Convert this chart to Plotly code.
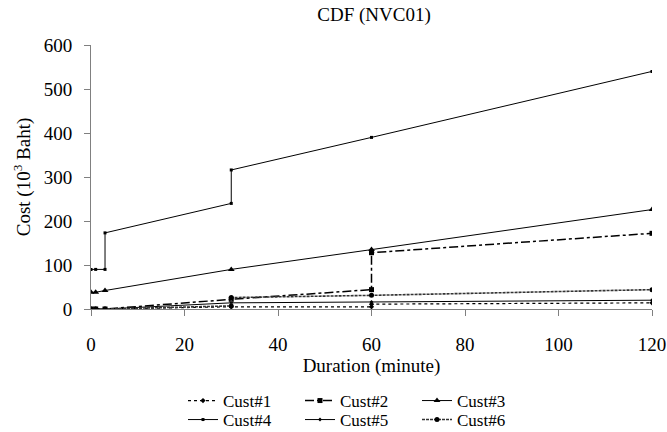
import plotly.graph_objects as go

title = "CDF (NVC01)"
x_title = "Duration (minute)"
y_title = "Cost (10<sup>3</sup> Baht)"

names = ["Cust#1", "Cust#2", "Cust#3", "Cust#4", "Cust#5", "Cust#6"]

c1_x = [0, 1, 3, 30, 60, 60, 120]
c1_y = [0, 0, 0, 5, 5, 11, 14]
c2_x = [0, 1, 3, 30, 60, 60, 120]
c2_y = [0, 0, 0, 22, 44, 128, 172]
c3_x = [0, 1, 3, 30, 60, 120]
c3_y = [38, 38, 42, 90, 135, 226]
c4_x = [0, 1, 3, 3, 30, 30, 60, 120]
c4_y = [90, 90, 90, 173, 240, 316, 390, 540]
c5_x = [0, 1, 3, 30, 60, 120]
c5_y = [0, 0, 0, 14, 16, 20]
c6_x = [0, 1, 3, 30, 30, 60, 120]
c6_y = [0, 0, 0, 7, 26, 31, 44]

FONT = "Liberation Serif"
FS = 19

styles = [
    dict(dash="dot", width=1.2, color="black", symbol="diamond", size=4),
    dict(dash="dashdot", width=1.5, color="black", symbol="square", size=5),
    dict(dash="solid", width=1, color="black", symbol="triangle-up", size=6),
    dict(dash="solid", width=1, color="black", symbol="square", size=3),
    dict(dash="solid", width=1, color="black", symbol="diamond", size=3),
    dict(dash="3px,1px", width=1.6, color="#333333", symbol="circle", size=5),
]
data = [(c1_x, c1_y), (c2_x, c2_y), (c3_x, c3_y), (c4_x, c4_y), (c5_x, c5_y), (c6_x, c6_y)]

fig = go.Figure()
for i, ((xs, ys), st, nm) in enumerate(zip(data, styles, names)):
    fig.add_trace(go.Scatter(
        x=xs, y=ys, name=nm, mode="lines+markers",
        line=dict(color=st["color"], width=st["width"], dash=st["dash"]),
        marker=dict(symbol=st["symbol"], size=st["size"], color="black"),
        legend="legend" if i < 3 else "legend2",
    ))

axis_common = dict(
    showgrid=False, zeroline=False, showline=True, linecolor="#808080", linewidth=1,
    ticks="outside", ticklen=6, tickcolor="#808080",
    tickfont=dict(family=FONT, size=FS, color="black"),
)

leg_common = dict(
    orientation="h", xanchor="left", yanchor="middle",
    entrywidth=72, font=dict(family=FONT, size=17, color="black"),
    bgcolor="rgba(0,0,0,0)", itemwidth=30,
)

fig.update_layout(
    width=667, height=432,
    margin=dict(l=91, r=15, t=45, b=123, autoexpand=False),
    paper_bgcolor="white", plot_bgcolor="white",
    title=dict(text=title, x=374 / 667, xanchor="center", y=1 - 14 / 432, yanchor="middle",
               font=dict(family=FONT, size=FS, color="black")),
    xaxis=dict(range=[0, 120], tickvals=[0, 20, 40, 60, 80, 100, 120],
               ticklabelstandoff=12,
               title=dict(text=x_title, font=dict(family=FONT, size=FS, color="black"), standoff=4),
               **axis_common),
    yaxis=dict(range=[0, 600], tickvals=[0, 100, 200, 300, 400, 500, 600],
               ticklabelstandoff=8,
               title=dict(text=y_title, font=dict(family=FONT, size=FS, color="black"), standoff=8),
               **axis_common),
    legend=dict(x=(183 - 91) / 561, y=(309 - 401) / 264, **leg_common),
    legend2=dict(x=(183 - 91) / 561, y=(309 - 420) / 264, **leg_common),
)

fig.write_html("out.html")
